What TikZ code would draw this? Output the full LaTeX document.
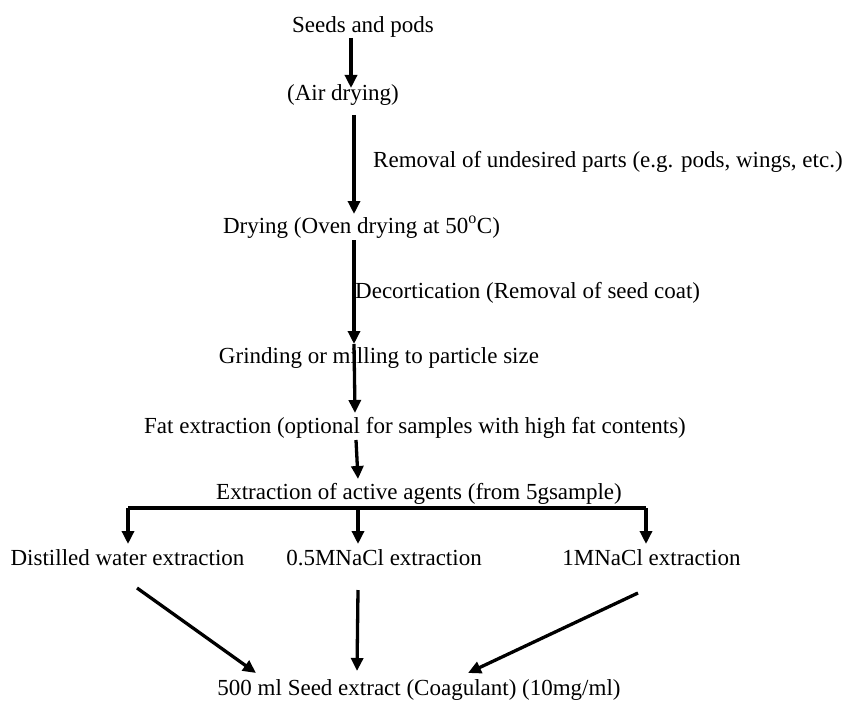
\documentclass[tikz,border=0pt]{standalone}
\usepackage{fontspec}
\setmainfont{Liberation Serif}
\usetikzlibrary{arrows.meta}
\begin{document}
\begin{tikzpicture}[x=1pt,y=-1pt,
  lbl/.style={font=\fontsize{23}{26}\selectfont, inner sep=0pt, anchor=base},
  lblw/.style={lbl, anchor=base west},
  arr/.style={line width=3.3pt, -{Triangle[length=13pt,width=12pt]}},
  ln/.style={line width=3.3pt}]
\useasboundingbox[fill=white] (0,0) rectangle (845,706);
% texts
\node[lbl] (seeds) at (363,33) {Seeds and pods};
\node[lbl] (air) at (343,101) {(Air drying)};
\node[lblw] (removal) at (373,167) {Removal of undesired parts (e.g. pods, wings, etc.)};
\node[lbl] (drying) at (361.5,233) {Drying (Oven drying at 50\textsuperscript{o}C)};
\node[lblw] (decort) at (355,298) {Decortication (Removal of seed coat)};
\node[lbl] (grind) at (379,363) {Grinding or milling to particle size};
\node[lbl] (fat) at (415,433) {Fat extraction (optional for samples with high fat contents)};
\node[lbl] (extr) at (419,499) {Extraction of active agents (from 5gsample)};
\node[lbl] (dw) at (127.5,565) {Distilled water extraction};
\node[lbl] (nacl5) at (384,565) {0.5MNaCl extraction};
\node[lbl] (nacl1) at (651.5,565) {1MNaCl extraction};
\node[lbl] (final) at (419,695) {500 ml Seed extract (Coagulant) (10mg/ml)};
% connector coordinates
\coordinate (a1s) at (351,38);
\coordinate (a1e) at (351,88);
\coordinate (a2s) at (354,115);
\coordinate (a2e) at (354,214);
\coordinate (a3s) at (354,240);
\coordinate (a3e) at (354,344);
\coordinate (a4e) at (355,413);
\coordinate (a5s) at (356,440);
\coordinate (a5e) at (358,479);
\coordinate (bl) at (128,508);
\coordinate (bm) at (358,508);
\coordinate (br) at (646,508);
\coordinate (ble) at (128,544);
\coordinate (bme) at (358,544);
\coordinate (bre) at (646,544);
\coordinate (d1s) at (137,588);
\coordinate (d1e) at (256,673);
\coordinate (d2s) at (358,590);
\coordinate (d2e) at (357,671);
\coordinate (d3s) at (638,593);
\coordinate (d3e) at (468,673);
% connectors
\draw[arr] (a1s) -- (a1e);
\draw[arr] (a2s) -- (a2e);
\draw[arr] (a3s) -- (a3e);
\draw[arr] (a3e) -- (a4e);
\draw[arr] (a5s) -- (a5e);
\draw[ln] (bl) -- (br);
\draw[arr] (bl) -- (ble);
\draw[arr] (bm) -- (bme);
\draw[arr] (br) -- (bre);
\draw[arr] (d1s) -- (d1e);
\draw[arr] (d2s) -- (d2e);
\draw[arr] (d3s) -- (d3e);
\end{tikzpicture}
\end{document}
